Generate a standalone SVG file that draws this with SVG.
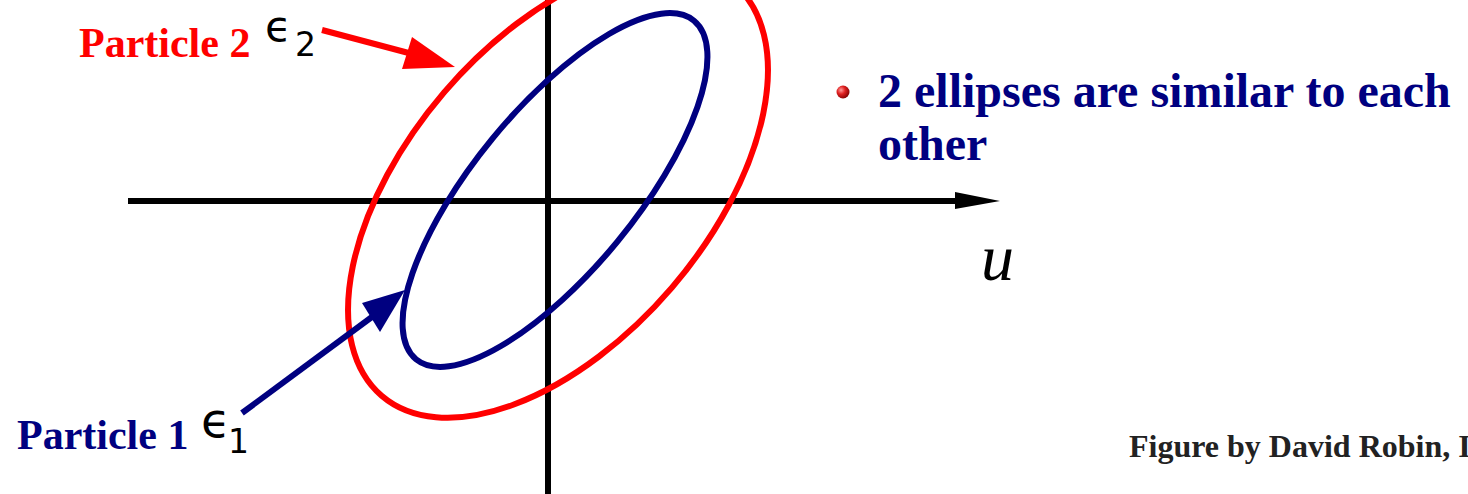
<svg xmlns="http://www.w3.org/2000/svg" width="1468" height="494" viewBox="0 0 1468 494">
<style>
.serifb{font-family:"Liberation Serif","Times New Roman",serif;font-weight:bold}
.sym{font-family:"DejaVu Sans",sans-serif;fill:#000}
.ax{stroke:#000;stroke-width:6;fill:none}
</style>
<defs>
<radialGradient id="ball" cx="0.35" cy="0.35" r="0.7">
<stop offset="0" stop-color="#ff9a9a"/>
<stop offset="0.45" stop-color="#e02020"/>
<stop offset="1" stop-color="#800000"/>
</radialGradient>
</defs>
<rect width="1468" height="494" fill="#fff"/>
<g id="axes">
<line class="ax" x1="128" y1="201" x2="960" y2="201"/>
<polygon points="955,192 1000,201 955,209" fill="#000"/>
<line class="ax" x1="548" y1="0" x2="548" y2="494"/>
<text x="981" y="280" font-family="Liberation Serif,serif" font-style="italic" font-size="66" fill="#000">u</text>
</g>
<g id="ellipse-red">
<ellipse cx="558" cy="190" rx="271" ry="150" transform="rotate(-49.4 558 190)" fill="none" stroke="#ff0000" stroke-width="6"/>
</g>
<g id="ellipse-blue">
<ellipse cx="555" cy="190" rx="219" ry="81" transform="rotate(-50.6 555 190)" fill="none" stroke="#000080" stroke-width="6"/>
</g>
<g id="connectors">
<line x1="322" y1="30" x2="420" y2="56" stroke="#ff0000" stroke-width="6"/>
<polygon points="412,37 455,67 402,69" fill="#ff0000"/>
<line x1="242" y1="413" x2="380" y2="311" stroke="#000080" stroke-width="6"/>
<polygon points="362,303 405,290 380,332" fill="#000080"/>
</g>
<g id="particle2">
<text class="serifb" x="79" y="57" font-size="42" fill="#ff0000">Particle 2</text>
<text class="sym" x="265" y="41" font-size="43">ϵ</text>
<text class="sym" x="295" y="56" font-size="33">2</text>
</g>
<g id="particle1">
<text class="serifb" x="17" y="449" font-size="42" fill="#000080">Particle 1</text>
<text class="sym" x="201" y="437" font-size="48">ϵ</text>
<text class="sym" x="228" y="453" font-size="33">1</text>
</g>
<g id="bullet">
<circle cx="843" cy="92" r="6.5" fill="url(#ball)"/>
<text class="serifb" x="878" y="107" font-size="48" fill="#000080">2 ellipses are similar to each</text>
<text class="serifb" x="878" y="160" font-size="48" fill="#000080">other</text>
</g>
<g id="credit">
<text class="serifb" x="1129" y="457" font-size="32" fill="#222">Figure by David Robin, I</text>
</g>
</svg>
